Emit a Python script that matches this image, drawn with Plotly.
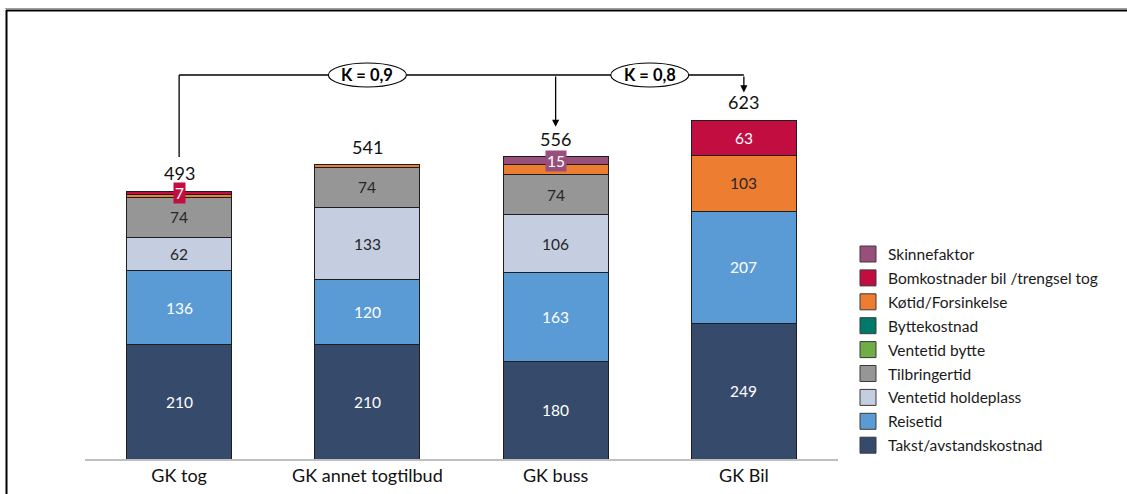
import plotly.graph_objects as go

# ---- data -------------------------------------------------------------
categories = ["GK tog", "GK annet togtilbud", "GK buss", "GK Bil"]

# components stacked from the bottom up (None = not present)
takst = [210, 210, 180, 249]
reisetid = [136, 120, 163, 207]
ventetid_holdeplass = [62, 133, 106, None]
tilbringertid = [74, 74, 74, None]
ventetid_bytte = [None, None, None, None]
byttekostnad = [None, None, None, None]
kotid = [4, 4, 18, 103]
bomkostnader = [7, None, None, 63]
skinnefaktor = [None, None, 15, None]

totals = [493, 541, 556, 623]

series_names = [
    "Takst/avstandskostnad", "Reisetid", "Ventetid holdeplass", "Tilbringertid",
    "Ventetid bytte", "Byttekostnad", "Køtid/Forsinkelse",
    "Bomkostnader bil /trengsel tog", "Skinnefaktor",
]
series_values = [
    takst, reisetid, ventetid_holdeplass, tilbringertid,
    ventetid_bytte, byttekostnad, kotid, bomkostnader, skinnefaktor,
]
series_colors = [
    "#364B6C", "#5B9BD5", "#C5CEE0", "#969696",
    "#70AD47", "#00796B", "#ED7D31", "#C20D40", "#984F7B",
]
label_dark = {"Ventetid holdeplass", "Tilbringertid", "Køtid/Forsinkelse"}
# thin segments whose value is shown in a coloured box
boxed_labels = {("Bomkostnader bil /trengsel tog", 0), ("Skinnefaktor", 2)}
min_inline_value = 20

k_factors = ["K = 0,9", "K = 0,8"]

# ---- geometry ---------------------------------------------------------
W, H = 1127, 494
L, R, T, B = 85, 289, 30, 35
plot_w = W - L - R
plot_h = H - T - B
px_per_unit = 0.5435
y_max = plot_h / px_per_unit
FONT = "Lato"


def paper_x(px):
    return (px - L) / plot_w


def paper_y(py):
    return 1 - (py - T) / plot_h


def data_y(py):
    return (H - B - py) / px_per_unit


fig = go.Figure()
for name, vals, color in zip(series_names, series_values, series_colors):
    fig.add_trace(go.Bar(
        x=categories, y=vals, name=name,
        marker=dict(color=color, line=dict(color="#1E1E1E", width=1)),
        showlegend=False, hoverinfo="x+y+name",
    ))

annotations = []
# segment value labels
base = [0] * len(categories)
for name, vals, color in zip(series_names, series_values, series_colors):
    for i, v in enumerate(vals):
        if v is None:
            continue
        mid = base[i] + v / 2
        if (name, i) in boxed_labels:
            annotations.append(dict(
                x=categories[i], y=mid, text=str(v), showarrow=False,
                font=dict(family=FONT, size=15.5, color="white"),
                bgcolor=color, borderpad=1,
            ))
        elif v >= min_inline_value:
            annotations.append(dict(
                x=categories[i], y=mid, text=str(v), showarrow=False,
                font=dict(family=FONT, size=15.5,
                          color="#262626" if name in label_dark else "white"),
            ))
        base[i] += v

# totals above bars
for i, t in enumerate(totals):
    annotations.append(dict(
        x=categories[i], y=t, text=str(t), showarrow=False, yanchor="bottom",
        yshift=5, font=dict(family=FONT, size=18, color="#111111"),
    ))

# connector with K factors
line_y = data_y(75)
gap = 30 / px_per_unit
shapes = [
    dict(type="line", xref="x", yref="y", x0=0, x1=0,
         y0=totals[0] + gap + 4 / px_per_unit, y1=line_y,
         line=dict(color="black", width=1.3)),
    dict(type="line", xref="x", yref="y", x0=0, x1=3, y0=line_y, y1=line_y,
         line=dict(color="black", width=1.3)),
]
for tgt, off in ((2, gap), (3, gap - 2 / px_per_unit)):
    tip = totals[tgt] + off
    annotations.append(dict(
        x=tgt, y=tip, xref="x", yref="y", ax=tgt, ay=line_y,
        axref="x", ayref="y", text="", showarrow=True,
        arrowhead=2, arrowsize=1.1, arrowwidth=1.3, arrowcolor="black",
    ))
for xc, label in zip((1, 2.5), k_factors):
    shapes.append(dict(
        type="circle", xref="x", yref="y",
        xsizemode="pixel", ysizemode="pixel", xanchor=xc, yanchor=line_y,
        x0=-39, x1=39, y0=-12, y1=12,
        fillcolor="white", line=dict(color="black", width=1.1), layer="above",
    ))
    annotations.append(dict(
        x=xc, y=line_y, text=f"<b>{label}</b>", showarrow=False,
        font=dict(family=FONT, size=16.5, color="black"),
    ))

# legend (top entry first)
leg_y0, leg_step = 254, 23.9
for k, (name, color) in enumerate(zip(series_names[::-1], series_colors[::-1])):
    cy = leg_y0 + k * leg_step
    shapes.append(dict(
        type="rect", xref="paper", yref="paper",
        x0=paper_x(860), x1=paper_x(876), y0=paper_y(cy + 8), y1=paper_y(cy - 8),
        fillcolor=color, line=dict(color="#3A3A3A", width=1),
    ))
    annotations.append(dict(
        xref="paper", yref="paper", x=paper_x(886), y=paper_y(cy),
        xanchor="left", yanchor="middle", text=name, showarrow=False,
        font=dict(family=FONT, size=15.5, color="#1A1A1A"),
    ))

# outer frame
shapes += [
    dict(type="line", xref="paper", yref="paper", x0=paper_x(5), x1=paper_x(W),
         y0=paper_y(8.5), y1=paper_y(8.5), line=dict(color="#A0A0A0", width=1)),
    dict(type="line", xref="paper", yref="paper", x0=paper_x(6), x1=paper_x(W),
         y0=paper_y(10.5), y1=paper_y(10.5), line=dict(color="black", width=2)),
    dict(type="line", xref="paper", yref="paper", x0=paper_x(6.5), x1=paper_x(6.5),
         y0=paper_y(10), y1=paper_y(H), line=dict(color="black", width=2)),
]

fig.update_layout(
    width=W, height=H,
    margin=dict(l=L, r=R, t=T, b=B, autoexpand=False),
    barmode="stack", bargap=0.442,
    plot_bgcolor="white", paper_bgcolor="white",
    font=dict(family=FONT, color="#111111"),
    xaxis=dict(type="category", range=[-0.5, 3.5], showline=True,
               linecolor="#BFBFBF", linewidth=1.5, ticks="", showgrid=False,
               automargin=False,
               tickfont=dict(family=FONT, size=18, color="#111111")),
    yaxis=dict(visible=False, range=[0, y_max], automargin=False),
    shapes=shapes, annotations=annotations,
    showlegend=False,
)

fig.write_html("out.html")
